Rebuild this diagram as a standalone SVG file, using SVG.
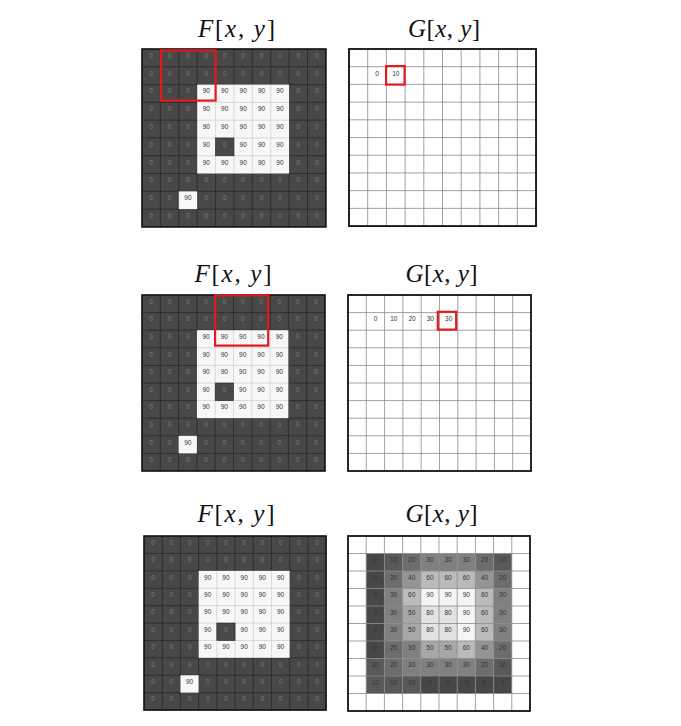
<svg xmlns="http://www.w3.org/2000/svg" xmlns:xlink="http://www.w3.org/1999/xlink" width="681" height="726" viewBox="0 0 681 726">
<style>
.d{fill:#484848}
.w{fill:#f7f7f7}
.t{font-family:"Liberation Sans",Arial,sans-serif;font-size:6.5px;text-anchor:middle}
.z{fill:#7c7c7c}
.n{fill:#333333}
.red{fill:none;stroke:#e3191c;stroke-width:2.2}
.title{font-family:"Liberation Serif","Times New Roman",serif;font-size:25px;fill:#111111}
.i{font-style:italic}
.v0{fill:#474747}.v10{fill:#595959}.v20{fill:#6d6d6d}.v30{fill:#808080}.v40{fill:#949494}.v50{fill:#a7a7a7}.v60{fill:#bbbbbb}.v80{fill:#e2e2e2}.v90{fill:#f5f5f5}
</style>
<defs>
<g id="fgrid">
<rect x="0" y="0" width="183" height="176" class="d"/>
<path d="M18.3 0V176M36.6 0V176M54.9 0V176M73.2 0V176M91.5 0V176M109.8 0V176M128.1 0V176M146.4 0V176M164.7 0V176M0 17.6H183M0 35.2H183M0 52.8H183M0 70.4H183M0 88H183M0 105.6H183M0 123.2H183M0 140.8H183M0 158.4H183" fill="none" stroke="#1e1e1e" stroke-width="0.6"/>
<rect x="54.9" y="35.2" width="91.5" height="88" class="w"/>
<rect x="36.6" y="140.8" width="18.3" height="17.6" class="w"/>
<path d="M73.2 35.2V123.2M91.5 35.2V123.2M109.8 35.2V123.2M128.1 35.2V123.2M54.9 52.8H146.4M54.9 70.4H146.4M54.9 88H146.4M54.9 105.6H146.4" fill="none" stroke="#c4c4c4" stroke-width="0.6"/>
<rect x="73.2" y="88" width="18.3" height="17.6" class="d" stroke="#1e1e1e" stroke-width="0.6"/>
<g class="t z">
<text x="9.15 27.45 45.75 64.05 82.35 100.65 118.95 137.25 155.55 173.85" y="8.8">0000000000</text>
<text x="9.15 27.45 45.75 64.05 82.35 100.65 118.95 137.25 155.55 173.85" y="26.4">0000000000</text>
<text x="9.15 27.45 45.75 155.55 173.85" y="44">00000</text>
<text x="9.15 27.45 45.75 155.55 173.85" y="61.6">00000</text>
<text x="9.15 27.45 45.75 155.55 173.85" y="79.2">00000</text>
<text x="9.15 27.45 45.75 82.35 155.55 173.85" y="96.8">000000</text>
<text x="9.15 27.45 45.75 155.55 173.85" y="114.4">00000</text>
<text x="9.15 27.45 45.75 64.05 82.35 100.65 118.95 137.25 155.55 173.85" y="132">0000000000</text>
<text x="9.15 27.45 64.05 82.35 100.65 118.95 137.25 155.55 173.85" y="149.6">000000000</text>
<text x="9.15 27.45 45.75 64.05 82.35 100.65 118.95 137.25 155.55 173.85" y="167.2">0000000000</text>
</g>
<g class="t n">
<text y="44"><tspan x="64.05">90</tspan><tspan x="82.35">90</tspan><tspan x="100.65">90</tspan><tspan x="118.95">90</tspan><tspan x="137.25">90</tspan></text>
<text y="61.6"><tspan x="64.05">90</tspan><tspan x="82.35">90</tspan><tspan x="100.65">90</tspan><tspan x="118.95">90</tspan><tspan x="137.25">90</tspan></text>
<text y="79.2"><tspan x="64.05">90</tspan><tspan x="82.35">90</tspan><tspan x="100.65">90</tspan><tspan x="118.95">90</tspan><tspan x="137.25">90</tspan></text>
<text y="96.8"><tspan x="64.05">90</tspan><tspan x="100.65">90</tspan><tspan x="118.95">90</tspan><tspan x="137.25">90</tspan></text>
<text y="114.4"><tspan x="64.05">90</tspan><tspan x="82.35">90</tspan><tspan x="100.65">90</tspan><tspan x="118.95">90</tspan><tspan x="137.25">90</tspan></text>
<text y="149.6"><tspan x="45.75">90</tspan></text>
</g>
<rect x="0" y="0" width="183" height="176" fill="none" stroke="#111111" stroke-width="1.6"/>
</g>
<g id="ggrid">
<path d="M18.3 0V176M36.6 0V176M54.9 0V176M73.2 0V176M91.5 0V176M109.8 0V176M128.1 0V176M146.4 0V176M164.7 0V176M0 17.6H183M0 35.2H183M0 52.8H183M0 70.4H183M0 88H183M0 105.6H183M0 123.2H183M0 140.8H183M0 158.4H183" fill="none" stroke="#8a8a8a" stroke-width="0.8"/>
<rect x="0" y="0" width="183" height="176" fill="none" stroke="#111111" stroke-width="1.8"/>
</g>
</defs>
<rect x="0" y="0" width="681" height="726" fill="#ffffff"/>

<!-- Titles -->
<g id="titles">
<text class="title" x="236.5" y="36.7" text-anchor="middle" textLength="77"><tspan class="i">F</tspan>[<tspan class="i">x</tspan>, <tspan class="i">y</tspan>]</text>
<text class="title" x="444" y="36.7" text-anchor="middle" textLength="72"><tspan class="i">G</tspan>[<tspan class="i">x</tspan>, <tspan class="i">y</tspan>]</text>
<text class="title" x="233" y="281.7" text-anchor="middle" textLength="77"><tspan class="i">F</tspan>[<tspan class="i">x</tspan>, <tspan class="i">y</tspan>]</text>
<text class="title" x="441.5" y="281.7" text-anchor="middle" textLength="72"><tspan class="i">G</tspan>[<tspan class="i">x</tspan>, <tspan class="i">y</tspan>]</text>
<text class="title" x="236" y="521.7" text-anchor="middle" textLength="77"><tspan class="i">F</tspan>[<tspan class="i">x</tspan>, <tspan class="i">y</tspan>]</text>
<text class="title" x="441.5" y="521.7" text-anchor="middle" textLength="72"><tspan class="i">G</tspan>[<tspan class="i">x</tspan>, <tspan class="i">y</tspan>]</text>
</g>

<!-- Row 1 -->
<g id="F1"><use xlink:href="#fgrid" href="#fgrid" transform="translate(142,49) scale(1.005,1.011)"/></g>
<g id="G1">
<use xlink:href="#ggrid" href="#ggrid" transform="translate(349,49) scale(1.022,1.006)"/>
<g class="t n"><text x="377.05" y="75.55">0</text><text x="395.75" y="75.55">10</text></g>
</g>
<rect id="K1" class="red" x="161.1" y="50.4" width="54.5" height="50.2"/>
<rect id="R1" class="red" x="386.1" y="66.1" width="18.5" height="18.5"/>

<!-- Row 2 -->
<g id="F2"><use xlink:href="#fgrid" href="#fgrid" transform="translate(142,295)"/></g>
<g id="G2">
<use xlink:href="#ggrid" href="#ggrid" transform="translate(348,295)"/>
<g class="t n"><text x="375.45" y="321.4">0</text><text x="393.75" y="321.4">10</text><text x="412.05" y="321.4">20</text><text x="430.35" y="321.4">30</text><text x="448.65" y="321.4">30</text></g>
</g>
<rect id="K2" class="red" x="215.1" y="295.4" width="53.1" height="50.2"/>
<rect id="R2" class="red" x="437.8" y="311.8" width="18.4" height="17.8"/>

<!-- Row 3 -->
<g id="F3"><use xlink:href="#fgrid" href="#fgrid" transform="translate(144,536) scale(0.995,0.989)"/></g>
<g id="G3">
<g id="shade">
<rect x="366.2" y="553.5" width="18.2" height="17.5" class="v0"/><rect x="384.4" y="553.5" width="18.2" height="17.5" class="v10"/><rect x="402.6" y="553.5" width="18.2" height="17.5" class="v20"/><rect x="420.8" y="553.5" width="18.2" height="17.5" class="v30"/><rect x="439" y="553.5" width="18.2" height="17.5" class="v30"/><rect x="457.2" y="553.5" width="18.2" height="17.5" class="v30"/><rect x="475.4" y="553.5" width="18.2" height="17.5" class="v20"/><rect x="493.6" y="553.5" width="18.2" height="17.5" class="v10"/>
<rect x="366.2" y="571" width="18.2" height="17.5" class="v0"/><rect x="384.4" y="571" width="18.2" height="17.5" class="v20"/><rect x="402.6" y="571" width="18.2" height="17.5" class="v40"/><rect x="420.8" y="571" width="18.2" height="17.5" class="v60"/><rect x="439" y="571" width="18.2" height="17.5" class="v60"/><rect x="457.2" y="571" width="18.2" height="17.5" class="v60"/><rect x="475.4" y="571" width="18.2" height="17.5" class="v40"/><rect x="493.6" y="571" width="18.2" height="17.5" class="v20"/>
<rect x="366.2" y="588.5" width="18.2" height="17.5" class="v0"/><rect x="384.4" y="588.5" width="18.2" height="17.5" class="v30"/><rect x="402.6" y="588.5" width="18.2" height="17.5" class="v60"/><rect x="420.8" y="588.5" width="18.2" height="17.5" class="v90"/><rect x="439" y="588.5" width="18.2" height="17.5" class="v90"/><rect x="457.2" y="588.5" width="18.2" height="17.5" class="v90"/><rect x="475.4" y="588.5" width="18.2" height="17.5" class="v60"/><rect x="493.6" y="588.5" width="18.2" height="17.5" class="v30"/>
<rect x="366.2" y="606" width="18.2" height="17.5" class="v0"/><rect x="384.4" y="606" width="18.2" height="17.5" class="v30"/><rect x="402.6" y="606" width="18.2" height="17.5" class="v50"/><rect x="420.8" y="606" width="18.2" height="17.5" class="v80"/><rect x="439" y="606" width="18.2" height="17.5" class="v80"/><rect x="457.2" y="606" width="18.2" height="17.5" class="v90"/><rect x="475.4" y="606" width="18.2" height="17.5" class="v60"/><rect x="493.6" y="606" width="18.2" height="17.5" class="v30"/>
<rect x="366.2" y="623.5" width="18.2" height="17.5" class="v0"/><rect x="384.4" y="623.5" width="18.2" height="17.5" class="v30"/><rect x="402.6" y="623.5" width="18.2" height="17.5" class="v50"/><rect x="420.8" y="623.5" width="18.2" height="17.5" class="v80"/><rect x="439" y="623.5" width="18.2" height="17.5" class="v80"/><rect x="457.2" y="623.5" width="18.2" height="17.5" class="v90"/><rect x="475.4" y="623.5" width="18.2" height="17.5" class="v60"/><rect x="493.6" y="623.5" width="18.2" height="17.5" class="v30"/>
<rect x="366.2" y="641" width="18.2" height="17.5" class="v0"/><rect x="384.4" y="641" width="18.2" height="17.5" class="v20"/><rect x="402.6" y="641" width="18.2" height="17.5" class="v30"/><rect x="420.8" y="641" width="18.2" height="17.5" class="v50"/><rect x="439" y="641" width="18.2" height="17.5" class="v50"/><rect x="457.2" y="641" width="18.2" height="17.5" class="v60"/><rect x="475.4" y="641" width="18.2" height="17.5" class="v40"/><rect x="493.6" y="641" width="18.2" height="17.5" class="v20"/>
<rect x="366.2" y="658.5" width="18.2" height="17.5" class="v10"/><rect x="384.4" y="658.5" width="18.2" height="17.5" class="v20"/><rect x="402.6" y="658.5" width="18.2" height="17.5" class="v30"/><rect x="420.8" y="658.5" width="18.2" height="17.5" class="v30"/><rect x="439" y="658.5" width="18.2" height="17.5" class="v30"/><rect x="457.2" y="658.5" width="18.2" height="17.5" class="v30"/><rect x="475.4" y="658.5" width="18.2" height="17.5" class="v20"/><rect x="493.6" y="658.5" width="18.2" height="17.5" class="v10"/>
<rect x="366.2" y="676" width="18.2" height="17.5" class="v10"/><rect x="384.4" y="676" width="18.2" height="17.5" class="v10"/><rect x="402.6" y="676" width="18.2" height="17.5" class="v10"/><rect x="420.8" y="676" width="18.2" height="17.5" class="v0"/><rect x="439" y="676" width="18.2" height="17.5" class="v0"/><rect x="457.2" y="676" width="18.2" height="17.5" class="v0"/><rect x="475.4" y="676" width="18.2" height="17.5" class="v0"/><rect x="493.6" y="676" width="18.2" height="17.5" class="v0"/>
</g>
<use xlink:href="#ggrid" href="#ggrid" transform="translate(348,536) scale(0.9945,0.9943)"/>
<g class="t n">
<text y="562.25"><tspan x="375.3">0</tspan><tspan x="393.5">10</tspan><tspan x="411.7">20</tspan><tspan x="429.9">30</tspan><tspan x="448.1">30</tspan><tspan x="466.3">30</tspan><tspan x="484.5">20</tspan><tspan x="502.7">10</tspan></text>
<text y="579.75"><tspan x="375.3">0</tspan><tspan x="393.5">20</tspan><tspan x="411.7">40</tspan><tspan x="429.9">60</tspan><tspan x="448.1">60</tspan><tspan x="466.3">60</tspan><tspan x="484.5">40</tspan><tspan x="502.7">20</tspan></text>
<text y="597.25"><tspan x="375.3">0</tspan><tspan x="393.5">30</tspan><tspan x="411.7">60</tspan><tspan x="429.9">90</tspan><tspan x="448.1">90</tspan><tspan x="466.3">90</tspan><tspan x="484.5">60</tspan><tspan x="502.7">30</tspan></text>
<text y="614.75"><tspan x="375.3">0</tspan><tspan x="393.5">30</tspan><tspan x="411.7">50</tspan><tspan x="429.9">80</tspan><tspan x="448.1">80</tspan><tspan x="466.3">90</tspan><tspan x="484.5">60</tspan><tspan x="502.7">30</tspan></text>
<text y="632.25"><tspan x="375.3">0</tspan><tspan x="393.5">30</tspan><tspan x="411.7">50</tspan><tspan x="429.9">80</tspan><tspan x="448.1">80</tspan><tspan x="466.3">90</tspan><tspan x="484.5">60</tspan><tspan x="502.7">30</tspan></text>
<text y="649.75"><tspan x="375.3">0</tspan><tspan x="393.5">20</tspan><tspan x="411.7">30</tspan><tspan x="429.9">50</tspan><tspan x="448.1">50</tspan><tspan x="466.3">60</tspan><tspan x="484.5">40</tspan><tspan x="502.7">20</tspan></text>
<text y="667.25"><tspan x="375.3">10</tspan><tspan x="393.5">20</tspan><tspan x="411.7">30</tspan><tspan x="429.9">30</tspan><tspan x="448.1">30</tspan><tspan x="466.3">30</tspan><tspan x="484.5">20</tspan><tspan x="502.7">10</tspan></text>
<text y="684.75"><tspan x="375.3">10</tspan><tspan x="393.5">10</tspan><tspan x="411.7">10</tspan><tspan x="429.9">0</tspan><tspan x="448.1">0</tspan><tspan x="466.3">0</tspan><tspan x="484.5">0</tspan><tspan x="502.7">0</tspan></text>
</g>
</g>
</svg>
